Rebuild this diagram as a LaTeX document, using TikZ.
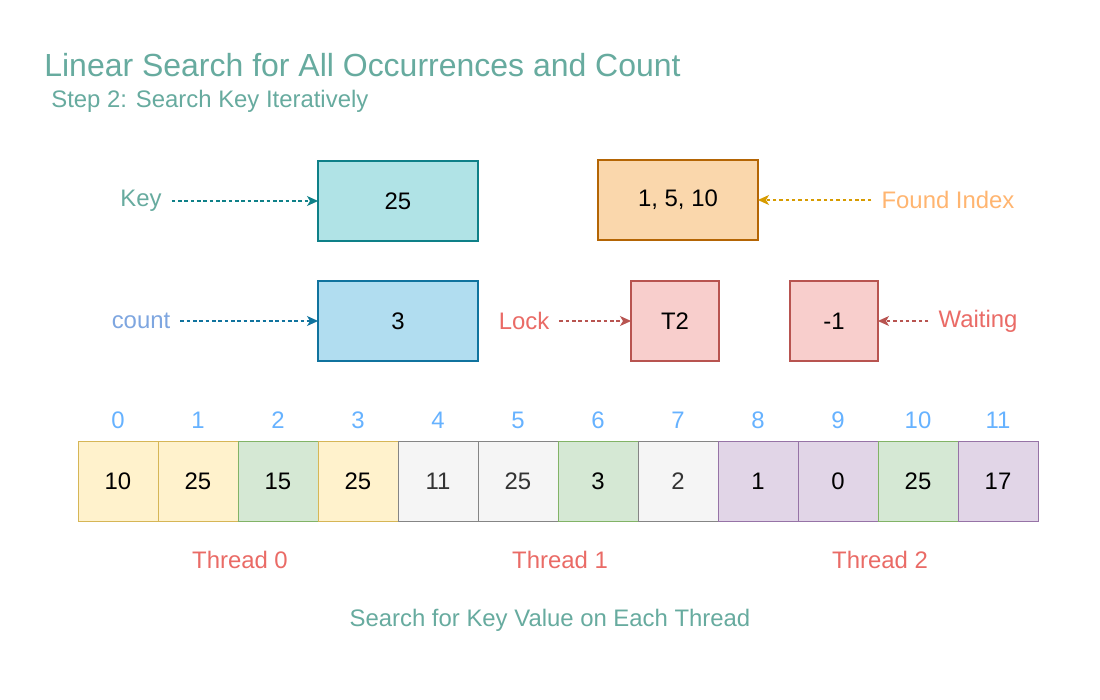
\documentclass[tikz,border=0pt]{standalone}
\usepackage{fontspec}
\setmainfont{Liberation Sans}
\usetikzlibrary{arrows.meta,positioning}

\definecolor{txtgreen}{HTML}{67AB9F}
\definecolor{txtred}{HTML}{EA6B66}
\definecolor{txtblue}{HTML}{7EA6E0}
\definecolor{txtorange}{HTML}{FFB570}
\definecolor{idxblue}{HTML}{66B2FF}
\definecolor{keyfill}{HTML}{B0E3E6}
\definecolor{keydraw}{HTML}{0E8088}
\definecolor{cntfill}{HTML}{B1DDF0}
\definecolor{cntdraw}{HTML}{10739E}
\definecolor{fndfill}{HTML}{FAD7AC}
\definecolor{fnddraw}{HTML}{B46504}
\definecolor{fndarrow}{HTML}{D79B00}
\definecolor{redfill}{HTML}{F8CECC}
\definecolor{reddraw}{HTML}{B85450}
\definecolor{yelfill}{HTML}{FFF2CC}
\definecolor{yeldraw}{HTML}{D6B656}
\definecolor{grnfill}{HTML}{D5E8D4}
\definecolor{grndraw}{HTML}{82B366}
\definecolor{gryfill}{HTML}{F5F5F5}
\definecolor{grydraw}{HTML}{666666}
\definecolor{purfill}{HTML}{E1D5E7}
\definecolor{purdraw}{HTML}{9673A6}

\begin{document}
\begin{tikzpicture}[x=0.02cm, y=-0.02cm,
    every node/.style={font=\fontsize{13.6}{16}\selectfont},
    box/.style={draw, line width=0.6pt, minimum width=3.2cm, minimum height=1.6cm, outer sep=0pt},
    sbox/.style={box, minimum width=1.76cm},
    cell/.style={draw, line width=0.5pt, minimum size=1.6cm, outer sep=0pt},
    lbl/.style={outer sep=2.5pt},
    yel/.style={fill=yelfill, draw=yeldraw},
    grn/.style={fill=grnfill, draw=grndraw},
    gry/.style={fill=gryfill, draw=grydraw!80, text=black!80},
    pur/.style={fill=purfill, draw=purdraw},
    ptr/.style={dash pattern=on 2pt off 1.6pt, line width=0.6pt, -{Stealth[length=2.2mm,width=2mm,inset=0.6mm]}}
  ]
    \fill[white] (0,0) rectangle (1100,700);
    \useasboundingbox (0,0) rectangle (1100,700);

    % title
    \node[anchor=west, text=txtgreen, font=\fontsize{18.2}{22}\selectfont, inner sep=0pt] (title) at (44,65) {Linear Search for All Occurrences and Count};
    \node[anchor=west, text=txtgreen, inner sep=0pt] (subtitle) at (51,101) {Step 2: Search Key Iteratively};

    % key / found index
    \node[box, fill=keyfill, draw=keydraw] (keybox) at (398,201) {25};
    \node[box, fill=fndfill, draw=fnddraw] (fndbox) at (678,200) {1, 5, 10};
    \node[lbl, text=txtgreen] (keylbl) at (141,201) {Key};
    \node[lbl, text=txtorange] (fndlbl) at (948,200) {Found Index};
    \draw[ptr, keydraw] (keylbl) -- (keybox);
    \draw[ptr, fndarrow] (fndlbl) -- (fndbox);

    % count / lock / waiting
    \node[box, fill=cntfill, draw=cntdraw] (cntbox) at (398,321) {3};
    \node[sbox, fill=redfill, draw=reddraw] (lockbox) at (675,321) {T2};
    \node[sbox, fill=redfill, draw=reddraw] (waitbox) at (834,321) {-1};
    \node[lbl, text=txtblue] (cntlbl) at (141,321) {count};
    \node[lbl, text=txtred] (locklbl) at (524,321) {Lock};
    \node[lbl, text=txtred] (waitlbl) at (978,321) {Waiting};
    \draw[ptr, cntdraw] (cntlbl) -- (cntbox);
    \draw[ptr, reddraw] (locklbl) -- (lockbox);
    \draw[ptr, reddraw] (waitlbl) -- (waitbox);

    % array
    \foreach \i/\v/\c in {0/10/yel, 1/25/yel, 2/15/grn, 3/25/yel, 4/11/gry, 5/25/gry,
                          6/3/grn, 7/2/gry, 8/1/pur, 9/0/pur, 10/25/grn, 11/17/pur} {
        \node[cell, \c] (c\i) at ({118+80*\i},481) {\v};
        \node[text=idxblue] (idx\i) at ({118+80*\i},420) {\i};
    }

    % threads
    \node[text=txtred] (t0) at (240,560) {Thread 0};
    \node[text=txtred] (t1) at (560,560) {Thread 1};
    \node[text=txtred] (t2) at (880,560) {Thread 2};
    \node[text=txtgreen] (caption) at (550,620) {Search for Key Value on Each Thread};
\end{tikzpicture}
\end{document}
